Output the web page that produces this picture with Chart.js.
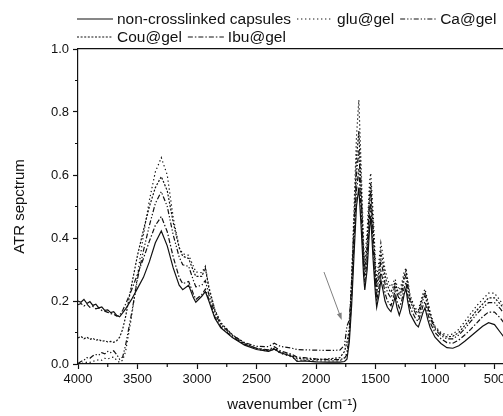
<!DOCTYPE html>
<html>
<head>
<meta charset="utf-8">
<script src="https://cdn.jsdelivr.net/npm/chart.js@4"></script>
<style>
html, body { margin: 0; padding: 0; background: #fff; overflow: hidden; }
#wrap { width: 520px; height: 416px; }
</style>
</head>
<body>
<div id="wrap"><canvas id="ftir" width="520" height="416"></canvas></div>
<script>
// wavenumber (cm-1)
const wavenumber = [
  4000, 3975, 3950, 3925, 3900, 3875, 3850, 3825, 3800, 3775, 3750, 3725, 3700, 3675, 3650,
  3625, 3600, 3550, 3500, 3450, 3400, 3350, 3300, 3250, 3200, 3150, 3120, 3070, 3030, 3010, 2960,
  2930, 2900, 2850, 2800, 2700, 2600, 2500, 2400, 2350, 2300, 2200, 2160, 2100, 2000, 1900, 1800,
  1760, 1740, 1720, 1700, 1680, 1660, 1640, 1620, 1600, 1590, 1570, 1550, 1540, 1520, 1500, 1490,
  1470, 1455, 1440, 1420, 1400, 1380, 1370, 1350, 1336, 1320, 1300, 1280, 1260, 1244, 1230, 1210,
  1182, 1160, 1140, 1120, 1100, 1084, 1060, 1040, 1020, 1000,
  950, 900, 850, 800, 750, 700, 650, 600, 550, 500, 450, 400
];

const nonCrosslinked = [
  0.200, 0.196, 0.205, 0.192, 0.198, 0.186, 0.190, 0.178, 0.181, 0.170, 0.172, 0.163, 0.166, 0.154, 0.150,
  0.162, 0.175, 0.205, 0.240, 0.275, 0.325, 0.385, 0.422, 0.375, 0.305, 0.250, 0.236, 0.250, 0.210, 0.196, 0.215,
  0.230, 0.200, 0.145, 0.115, 0.083, 0.060, 0.046, 0.040, 0.047, 0.036, 0.024, 0.008, 0.010, 0.007, 0.006, 0.006,
  0.008, 0.015, 0.070, 0.190, 0.350, 0.500, 0.560, 0.430, 0.280, 0.235, 0.300, 0.430, 0.470, 0.330, 0.220, 0.180,
  0.220, 0.267, 0.240, 0.200, 0.180, 0.170, 0.166, 0.190, 0.214, 0.180, 0.155, 0.180, 0.220, 0.240, 0.200, 0.160,
  0.140, 0.125, 0.118, 0.140, 0.165, 0.178, 0.140, 0.115, 0.100, 0.085,
  0.065, 0.052, 0.050, 0.058, 0.072, 0.088, 0.104, 0.120, 0.131, 0.125, 0.100, 0.075
];

const gluGel = [
  0.000, 0.003, 0.002, 0.006, 0.005, 0.009, 0.010, 0.014, 0.012, 0.018, 0.016, 0.020, 0.022, 0.012, 0.005,
  0.012, 0.040, 0.150, 0.280, 0.410, 0.520, 0.610, 0.655, 0.600, 0.465, 0.370, 0.350, 0.345, 0.310, 0.292, 0.290,
  0.310, 0.245, 0.172, 0.132, 0.090, 0.064, 0.048, 0.040, 0.048, 0.034, 0.022, 0.012, 0.012, 0.010, 0.010, 0.010,
  0.020, 0.035, 0.100, 0.280, 0.500, 0.720, 0.838, 0.620, 0.380, 0.330, 0.420, 0.580, 0.606, 0.480, 0.320, 0.270,
  0.330, 0.384, 0.350, 0.300, 0.270, 0.250, 0.245, 0.260, 0.270, 0.250, 0.235, 0.255, 0.290, 0.305, 0.270, 0.220,
  0.190, 0.175, 0.170, 0.200, 0.225, 0.238, 0.200, 0.165, 0.140, 0.120,
  0.100, 0.092, 0.095, 0.110, 0.135, 0.160, 0.185, 0.205, 0.225, 0.225, 0.200, 0.175
];

const caGel = [
  0.002, 0.008, 0.012, 0.020, 0.018, 0.026, 0.030, 0.028, 0.036, 0.032, 0.040, 0.036, 0.042, 0.030, 0.015,
  0.022, 0.060, 0.160, 0.270, 0.360, 0.440, 0.510, 0.547, 0.500, 0.410, 0.340, 0.315, 0.310, 0.265, 0.245, 0.250,
  0.265, 0.220, 0.160, 0.125, 0.090, 0.068, 0.056, 0.055, 0.066, 0.056, 0.050, 0.046, 0.045, 0.044, 0.043, 0.044,
  0.060, 0.120, 0.140, 0.260, 0.430, 0.600, 0.680, 0.520, 0.330, 0.280, 0.360, 0.510, 0.550, 0.410, 0.270, 0.225,
  0.275, 0.330, 0.300, 0.255, 0.228, 0.215, 0.210, 0.230, 0.250, 0.225, 0.205, 0.225, 0.265, 0.282, 0.245, 0.200,
  0.175, 0.158, 0.152, 0.178, 0.205, 0.218, 0.180, 0.148, 0.128, 0.110,
  0.090, 0.080, 0.080, 0.092, 0.112, 0.135, 0.158, 0.178, 0.195, 0.195, 0.175, 0.150
];

const couGel = [
  0.083, 0.088, 0.080, 0.085, 0.078, 0.082, 0.075, 0.078, 0.072, 0.074, 0.070, 0.072, 0.069, 0.074, 0.085,
  0.110, 0.150, 0.250, 0.345, 0.425, 0.500, 0.560, 0.595, 0.550, 0.450, 0.370, 0.342, 0.335, 0.295, 0.278, 0.278,
  0.305, 0.240, 0.170, 0.130, 0.092, 0.066, 0.050, 0.042, 0.050, 0.038, 0.026, 0.018, 0.016, 0.014, 0.016, 0.020,
  0.040, 0.070, 0.110, 0.270, 0.460, 0.650, 0.740, 0.560, 0.350, 0.300, 0.380, 0.540, 0.575, 0.440, 0.295, 0.245,
  0.300, 0.355, 0.325, 0.280, 0.250, 0.232, 0.228, 0.245, 0.260, 0.238, 0.220, 0.240, 0.278, 0.295, 0.260, 0.210,
  0.183, 0.167, 0.162, 0.190, 0.215, 0.228, 0.190, 0.157, 0.134, 0.115,
  0.096, 0.086, 0.088, 0.100, 0.122, 0.146, 0.170, 0.190, 0.210, 0.210, 0.190, 0.165
];

const ibuGel = [
  0.188, 0.192, 0.184, 0.190, 0.180, 0.183, 0.175, 0.178, 0.170, 0.168, 0.164, 0.160, 0.158, 0.152, 0.155,
  0.170, 0.190, 0.235, 0.285, 0.335, 0.390, 0.440, 0.468, 0.420, 0.340, 0.275, 0.255, 0.262, 0.222, 0.205, 0.220,
  0.238, 0.205, 0.150, 0.118, 0.085, 0.063, 0.050, 0.045, 0.055, 0.042, 0.030, 0.022, 0.020, 0.016, 0.014, 0.014,
  0.018, 0.030, 0.090, 0.220, 0.390, 0.550, 0.620, 0.480, 0.310, 0.260, 0.330, 0.470, 0.510, 0.370, 0.245, 0.200,
  0.245, 0.295, 0.270, 0.225, 0.200, 0.190, 0.185, 0.210, 0.232, 0.200, 0.178, 0.200, 0.240, 0.260, 0.220, 0.180,
  0.158, 0.142, 0.136, 0.160, 0.186, 0.198, 0.160, 0.132, 0.115, 0.100,
  0.080, 0.068, 0.066, 0.076, 0.092, 0.110, 0.130, 0.150, 0.165, 0.165, 0.145, 0.120
];

const xTicks = [4000, 3500, 3000, 2500, 2000, 1500, 1000, 500];
const xMinorTicks = [3750, 3250, 2750, 2250, 1750, 1250, 750];
const yTicks = [0.0, 0.2, 0.4, 0.6, 0.8, 1.0];
const yMinorTicks = [0.1, 0.3, 0.5, 0.7, 0.9];

// arrow pointing at the 1740 band (wavenumber, absorbance)
const arrowFrom = [1933, 0.292];
const arrowTo = [1784, 0.140];

const toPoints = vals => vals.map((v, i) => ({ x: wavenumber[i], y: v }));
const ink = '#111';

function series(label, vals, dash) {
  return {
    label: label,
    data: toPoints(vals),
    borderColor: ink,
    borderWidth: 1.2,
    borderDash: dash,
    pointRadius: 0,
    tension: 0,
    fill: false
  };
}

// minor ticks, arrow and a left-aligned legend like the original figure
const extras = {
  id: 'extras',
  afterDraw(chart) {
    const ctx = chart.ctx;
    const xs = chart.scales.x, ys = chart.scales.y;
    ctx.save();
    ctx.strokeStyle = ink;
    ctx.lineWidth = 1.2;
    ctx.beginPath();
    xMinorTicks.forEach(v => {
      const px = xs.getPixelForValue(v);
      ctx.moveTo(px, ys.bottom);
      ctx.lineTo(px, ys.bottom + 3);
    });
    yMinorTicks.forEach(v => {
      const py = ys.getPixelForValue(v);
      ctx.moveTo(xs.left, py);
      ctx.lineTo(xs.left - 3, py);
    });
    ctx.stroke();

    // arrow
    const x0 = xs.getPixelForValue(arrowFrom[0]), y0 = ys.getPixelForValue(arrowFrom[1]);
    const x1 = xs.getPixelForValue(arrowTo[0]), y1 = ys.getPixelForValue(arrowTo[1]);
    const a = Math.atan2(y1 - y0, x1 - x0);
    ctx.strokeStyle = '#808080';
    ctx.fillStyle = '#808080';
    ctx.lineWidth = 1;
    ctx.beginPath();
    ctx.moveTo(x0, y0);
    ctx.lineTo(x1 - 5 * Math.cos(a), y1 - 5 * Math.sin(a));
    ctx.stroke();
    ctx.beginPath();
    ctx.moveTo(x1, y1);
    ctx.lineTo(x1 - 7 * Math.cos(a) + 2.5 * Math.sin(a), y1 - 7 * Math.sin(a) - 2.5 * Math.cos(a));
    ctx.lineTo(x1 - 7 * Math.cos(a) - 2.5 * Math.sin(a), y1 - 7 * Math.sin(a) + 2.5 * Math.cos(a));
    ctx.closePath();
    ctx.fill();

    // legend
    ctx.font = '15.5px "Liberation Sans", Arial, sans-serif';
    ctx.textBaseline = 'middle';
    ctx.fillStyle = ink;
    ctx.strokeStyle = ink;
    ctx.lineWidth = 1.2;
    const startX = 77;
    let lx = startX, ly = 19;
    chart.data.datasets.forEach(ds => {
      const w = 36 + 4 + ctx.measureText(ds.label).width;
      if (lx > startX && lx + w > 505) { lx = startX; ly += 18; }
      ctx.setLineDash(ds.borderDash || []);
      ctx.beginPath();
      ctx.moveTo(lx, ly);
      ctx.lineTo(lx + 36, ly);
      ctx.stroke();
      ctx.setLineDash([]);
      ctx.fillText(ds.label, lx + 40, ly + 1);
      lx += w + 6;
    });
    ctx.restore();
  }
};

const tickFont = { family: '"Liberation Sans", Arial, sans-serif', size: 13 };
const titleFont = { family: '"Liberation Sans", Arial, sans-serif', size: 15 };

new Chart(document.getElementById('ftir'), {
  type: 'line',
  data: {
    datasets: [
      series('non-crosslinked capsules', nonCrosslinked, []),
      series('glu@gel', gluGel, [1.3, 2.7]),
      series('Ca@gel', caGel, [5, 2, 1.3, 2, 1.3, 2]),
      series('Cou@gel', couGel, [2, 1.6]),
      series('Ibu@gel', ibuGel, [5, 2, 1.5, 2])
    ]
  },
  options: {
    responsive: false,
    animation: false,
    devicePixelRatio: 1,
    layout: { padding: { top: 49, right: 13.6, left: 0, bottom: 0 } },
    plugins: {
      legend: { display: false },
      tooltip: { enabled: false }
    },
    scales: {
      x: {
        type: 'linear',
        reverse: true,
        min: 400,
        max: 4000,
        afterBuildTicks: s => { s.ticks = xTicks.map(v => ({ value: v })); },
        afterFit: s => { s.height = 52; s.paddingLeft = 0; s.paddingRight = 0; },
        grid: { drawOnChartArea: false, color: ink, tickLength: 5, tickWidth: 1.2 },
        border: { color: ink, width: 1.2 },
        ticks: { color: ink, font: tickFont, padding: 3, maxRotation: 0, autoSkip: false, callback: v => String(v) },
        title: {
          display: true,
          text: 'wavenumber (cm⁻¹)',
          color: ink,
          font: titleFont,
          padding: { top: 0, bottom: 2 }
        }
      },
      x2: {
        type: 'linear',
        position: 'top',
        grid: { display: false, drawTicks: false },
        border: { display: true, color: ink, width: 1.2 },
        ticks: { display: false }
      },
      y: {
        min: 0,
        max: 1,
        afterBuildTicks: s => { s.ticks = yTicks.map(v => ({ value: v })); },
        afterFit: s => { s.width = 78; s.paddingTop = 0; s.paddingBottom = 0; },
        grid: { drawOnChartArea: false, color: ink, tickLength: 5, tickWidth: 1.2 },
        border: { color: ink, width: 1.2 },
        ticks: { color: ink, font: tickFont, padding: 4, callback: v => v.toFixed(1) },
        title: {
          display: true,
          text: 'ATR sepctrum',
          color: ink,
          font: titleFont,
          padding: { top: 11, bottom: 0 }
        }
      }
    }
  },
  plugins: [extras]
});
</script>
</body>
</html>
